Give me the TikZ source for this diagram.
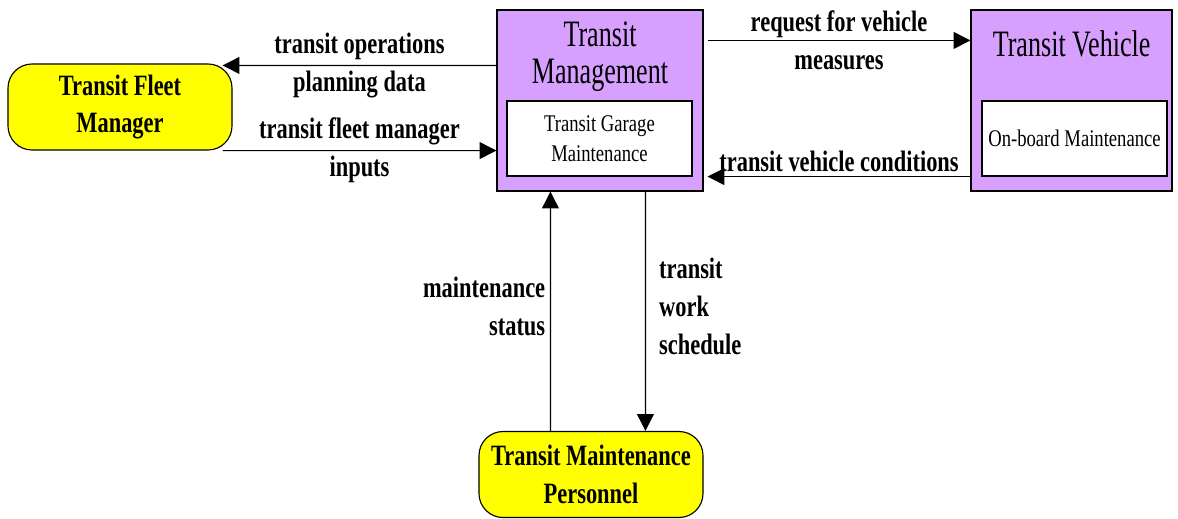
\documentclass[tikz,border=0pt]{standalone}
\usepackage{fontspec}
\setmainfont{Liberation Serif}
\newfontfamily\narrowserif[FakeStretch=0.76]{Liberation Serif}
\newfontfamily\inlineserif[FakeStretch=0.78]{Liberation Serif}
\newfontfamily\titleserif[FakeStretch=0.7]{Liberation Serif}
\usetikzlibrary{arrows.meta,positioning,calc}
\definecolor{termyellow}{RGB}{255,255,0}
\definecolor{sysviolet}{RGB}{215,160,255}

\begin{document}
\begin{tikzpicture}[
  every node/.style={font=\narrowserif},
  terminator/.style={draw, fill=termyellow, rounded corners=0.6cm, line width=0.8pt, minimum width=5.6cm, minimum height=2.15cm, align=center, font=\narrowserif\bfseries\fontsize{21}{27}\selectfont},
  subsystem/.style={draw, fill=sysviolet, line width=0.8pt, minimum height=4.525cm},
  package/.style={draw, fill=white, line width=0.8pt, minimum width=4.625cm, minimum height=1.875cm, align=center, font=\inlineserif\fontsize{17}{21}\selectfont},
  boxtitle/.style={align=center, font=\titleserif\fontsize{26.5}{26}\selectfont},
  flowlabel/.style={align=center, font=\narrowserif\bfseries\fontsize{21}{27}\selectfont},
  flow/.style={line width=0.8pt, -{Triangle[length=12pt,width=12pt]}}
]
  \useasboundingbox (0,0) rectangle (29.45,-12.95);

  % terminators
  \node[terminator] (fleet) at (3.0,-2.675) {Transit Fleet\\Manager};
  \node[terminator] (crew) at (14.775,-11.8625) {Transit Maintenance\\Personnel};

  % subsystems with their packages
  \node[subsystem, minimum width=5.15cm] (mgmt) at (15.0,-2.5125) {};
  \node[boxtitle] (mgmttitle) at (15.0,-1.42) {Transit\\Management};
  \node[package] (garage) at (14.9875,-3.4625) {Transit Garage\\Maintenance};

  \node[subsystem, minimum width=5.025cm] (vehicle) at (26.7875,-2.5125) {};
  \node[boxtitle] (vehtitle) at (26.79,-1.1) {Transit Vehicle};
  \node[package] (onboard) at (26.8625,-3.4625) {On-board Maintenance};

  % flows
  \draw[flow] ($(mgmt.north west)+(0,-1.4)$) -- node[flowlabel] {transit operations\\planning data} ($(fleet.north east)+(-0.25,-0.05)$);
  \draw[flow] ($(fleet.south east)+(-0.25,0)$) -- node[flowlabel] {transit fleet manager\\inputs} ($(mgmt.south west)+(0,1.025)$);
  \draw[flow] ($(mgmt.north east)+(0.1,-0.775)$) -- node[flowlabel] {request for vehicle\\measures} ($(vehicle.north west)+(0,-0.775)$);
  \draw[flow] ($(vehicle.south west)+(0,0.375)$) -- node[flowlabel, above] {transit vehicle conditions} ($(mgmt.south east)+(0.1,0.375)$);
  \draw[flow] ($(crew.north west)+(1.8,0)$) -- node[flowlabel, left, align=right, pos=0.52] {maintenance\\status} ($(mgmt.south west)+(1.35,0)$);
  \draw[flow] ($(mgmt.south west)+(3.725,0)$) -- node[flowlabel, right=6pt, align=left, pos=0.48] {transit\\work\\schedule} ($(crew.north west)+(4.175,0)$);
\end{tikzpicture}
\end{document}
